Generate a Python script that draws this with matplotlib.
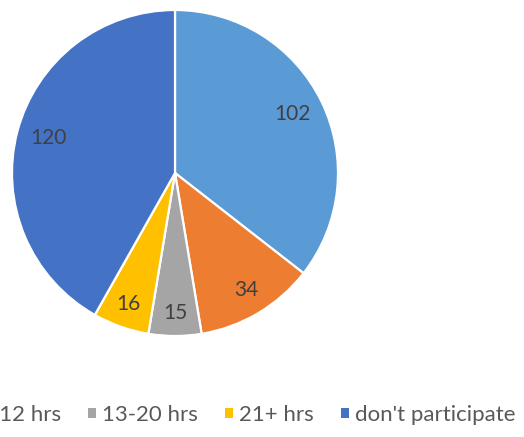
import numpy as np
import matplotlib.pyplot as plt
from matplotlib.patches import Patch

# weekly hours categories and respondent counts
categories = ["1-6 hrs", "7-12 hrs", "13-20 hrs", "21+ hrs", "don't participate"]
counts = [102, 34, 15, 16, 120]
colors = ["#5B9BD5", "#ED7D31", "#A5A5A5", "#FFC000", "#4472C4"]

plt.rcParams["font.family"] = ["Lato", "DejaVu Sans"]

W, H = 524, 437
fig = plt.figure(figsize=(W / 100, H / 100), dpi=100)

# pie sits to the left, centre (175, 173) px, radius 163 px
cx, cy, r = 175, 173, 163
ax = fig.add_axes([(cx - r) / W, (H - cy - r) / H, 2 * r / W, 2 * r / H])

wedges, _ = ax.pie(counts, colors=colors, startangle=90, counterclock=False,
                   radius=1.0,
                   wedgeprops=dict(edgecolor="white", linewidth=1.6))
ax.set_xlim(-1, 1)
ax.set_ylim(-1, 1)
ax.set_aspect("equal")

# data labels, small slices pushed a bit further out
label_r = [0.80, 0.85, 0.87, 0.86, 0.80]
for w, v, lr in zip(wedges, counts, label_r):
    mid = np.deg2rad((w.theta1 + w.theta2) / 2)
    ax.text(lr * np.cos(mid), lr * np.sin(mid) + 0.01, str(v), ha="center",
            va="center", fontsize=15, color="#404040")

handles = [Patch(facecolor=c, edgecolor="none", label=l)
           for c, l in zip(colors, categories)]
fig.legend(handles=handles, loc="center right",
           bbox_to_anchor=(516 / W, 1 - 415 / H), ncol=5, frameon=False,
           fontsize=16, labelcolor="#595959", handlelength=0.36,
           handleheight=0.36, handletextpad=0.3, columnspacing=1.2,
           borderpad=0, borderaxespad=0)

fig.savefig("out.png", dpi=100)
